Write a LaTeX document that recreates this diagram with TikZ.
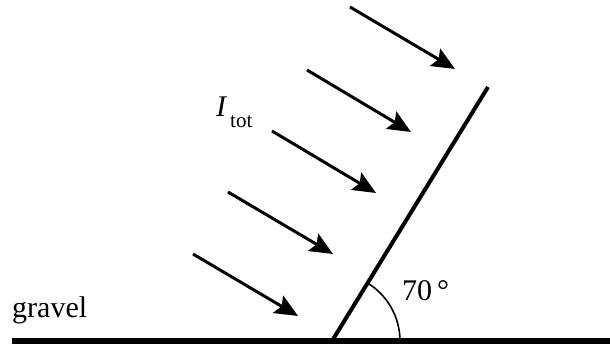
\documentclass[tikz,border=0pt]{standalone}
\usepackage{fontspec}
\setmainfont{Liberation Serif}
\usetikzlibrary{arrows.meta}
\begin{document}
\begin{tikzpicture}[x=1pt,y=1pt,
  ray/.style={line width=3pt,-{Stealth[length=23pt,width=20pt,inset=4pt]}},
  lbl/.style={inner sep=0pt,anchor=base west,font=\fontsize{30pt}{36pt}\selectfont},
  sublbl/.style={inner sep=0pt,anchor=base west,font=\fontsize{21pt}{25pt}\selectfont}]
\useasboundingbox (0,0) rectangle (610,344);
% ground
\coordinate (g0) at (12,3);
\coordinate (g1) at (610,3);
\draw[line width=6pt] (g0) -- (g1);
% tilted surface
\coordinate (base) at (332,3);
\coordinate (top) at (488,257);
\draw[line width=4pt] (base) -- (top);
% angle arc
\coordinate (arcstart) at (400,3);
\draw[line width=1.6pt] (arcstart) arc[start angle=0,end angle=58.4,radius=68pt];
% rays
\coordinate (s1) at (350,337); \coordinate (t1) at (455,275);
\coordinate (s2) at (307,274); \coordinate (t2) at (411,212);
\coordinate (s3) at (272,213); \coordinate (t3) at (376,151);
\coordinate (s4) at (228,152); \coordinate (t4) at (333,90);
\coordinate (s5) at (193,90);  \coordinate (t5) at (298,28);
\foreach \i in {1,...,5} \draw[ray] (s\i) -- (t\i);
% labels
\node[lbl] (gravel) at (12,26) {gravel};
\node[lbl] (I) at (216,227) {\textit{I}};
\node[sublbl] (tot) at (230,216) {tot};
\node[lbl] (ang) at (402,43) {70\hspace{0.16em}°};
\end{tikzpicture}
\end{document}
